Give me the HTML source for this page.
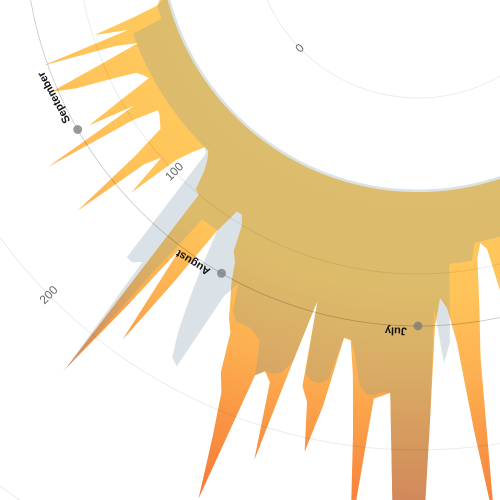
<!DOCTYPE html>
<html>
<head>
<meta charset="utf-8">
<style>
  html, body { margin: 0; padding: 0; background: #ffffff; width: 500px; height: 500px; overflow: hidden; }
  #chart { display: block; width: 500px; height: 500px; overflow: hidden; }
  svg text { font-family: "Liberation Sans", sans-serif; }
</style>
</head>
<body>
<svg id="chart" width="500" height="500" viewBox="0 0 500 500" xmlns="http://www.w3.org/2000/svg">
  <defs>
    <radialGradient id="orangeGrad" gradientUnits="userSpaceOnUse" cx="418" cy="-67" r="600">
      <stop offset="0.43" stop-color="#ffca5e"/>
      <stop offset="0.6" stop-color="#ffc45a"/>
      <stop offset="0.75" stop-color="#fdaf51"/>
      <stop offset="0.9" stop-color="#f98e41"/>
      <stop offset="1" stop-color="#f67a38"/>
    </radialGradient>
    <radialGradient id="tanGrad" gradientUnits="userSpaceOnUse" cx="418" cy="-67" r="600">
      <stop offset="0.43" stop-color="#dcbd6d"/>
      <stop offset="0.6" stop-color="#dcbb6b"/>
      <stop offset="0.75" stop-color="#d9a964"/>
      <stop offset="0.9" stop-color="#d4905b"/>
      <stop offset="1" stop-color="#d0805a"/>
    </radialGradient>
    <clipPath id="greyClip"><path id="greyClipPath" d=""/></clipPath>
  </defs>
  <g id="series-layer"></g>
  <g id="grid-layer"></g>
  <g id="label-layer"></g>
</svg>
<script>
// ---- data ----
const startDay = 158; // day-of-year index of first value (0 = Jan 1)
const orangeHigh = [
  120,120,120,120,120,120,120,120,120,
  120,140,135,90,86,94,120,150,245,190,140,120,114,130,179,250,262,258,240,168,170,172,250,193,160,141,140,180,208,180,172,123,160,220,175,170,174,251,215,190,180,157,150,140,131,120,115,100,95,95,111,150,192,130,175,224,100,99,88,82,78,78,85,95,126,100,110,156,110,90,88,86,85,100,155,95,123,100,80,82,85,100,120,133,100,77,90,132,80,99,75,60,
  58,58,58,58,58,58,58,58,58,58,58,58,58,58
];
const greyHigh = [
  85,85,85,85,85,85,85,85,85,
  85,85,85,85,85,85,95,95,95,95,95,140,151,120,180,250,262,258,240,168,168,170,170,165,150,140,140,165,168,168,165,123,160,168,170,170,174,155,152,150,150,150,145,130,140,188,185,170,150,130,110,110,110,110,150,228,150,154,154,111,80,
  78,78,78,78,78,78,78,78,78,78,78,78,78,78,78,78,78,78,78,78,78,78,78,78,78,78,78,60,60,60,60,
  56,56,56,56,56,56,56,56,56,56,56,56,56,56
];
const orangeLow = 53.5;
const greyLow = 52;
const radialTicks = [0, 100, 200, 300];
const monthLabels = ['January','February','March','April','May','June','July','August','September','October','November','December'];

// ---- axes ----
const cx = 418, cy = -67;
const r0 = 165, pxPerUnit = 1.76;
function rScale(v) { return r0 + v * pxPerUnit; }
function dayAngle(d) { return (-90 + d * 360 / 365) * Math.PI / 180; }
function monthAngle(m) { return (-90 + m * 30) * Math.PI / 180; }
function polar(a, r) { return [cx + r * Math.cos(a), cy + r * Math.sin(a)]; }

const NS = 'http://www.w3.org/2000/svg';
const seriesLayer = document.getElementById('series-layer');
const gridLayer = document.getElementById('grid-layer');
const labelLayer = document.getElementById('label-layer');

function areaPath(high, low) {
  let d = '';
  for (let i = 0; i < high.length; i++) {
    const p = polar(dayAngle(startDay + i), rScale(high[i]));
    d += (i === 0 ? 'M' : 'L') + p[0].toFixed(2) + ',' + p[1].toFixed(2);
  }
  const rl = rScale(low);
  const last = polar(dayAngle(startDay + high.length - 1), rl);
  const first = polar(dayAngle(startDay), rl);
  d += 'L' + last[0].toFixed(2) + ',' + last[1].toFixed(2);
  d += 'A' + rl + ',' + rl + ' 0 0 0 ' + first[0].toFixed(2) + ',' + first[1].toFixed(2) + 'Z';
  return d;
}

const greyD = areaPath(greyHigh, greyLow);
const orangeD = areaPath(orangeHigh, orangeLow);
document.getElementById('greyClipPath').setAttribute('d', greyD);

const greyArea = document.createElementNS(NS, 'path');
greyArea.setAttribute('d', greyD);
greyArea.setAttribute('fill', '#dae2e7');


seriesLayer.appendChild(greyArea);

const orangeArea = document.createElementNS(NS, 'path');
orangeArea.setAttribute('d', orangeD);
orangeArea.setAttribute('fill', 'url(#orangeGrad)');


seriesLayer.appendChild(orangeArea);

const overlapArea = document.createElementNS(NS, 'path');
overlapArea.setAttribute('d', orangeD);
overlapArea.setAttribute('fill', 'url(#tanGrad)');
overlapArea.setAttribute('clip-path', 'url(#greyClip)');


seriesLayer.appendChild(overlapArea);

// grid circles
radialTicks.forEach(function (t) {
  const c = document.createElementNS(NS, 'circle');
  c.setAttribute('cx', cx);
  c.setAttribute('cy', cy);
  c.setAttribute('r', rScale(t));
  c.setAttribute('fill', 'none');
  c.setAttribute('stroke', 'rgba(0,0,0,0.08)');
  c.setAttribute('stroke-width', '1');
  
  
  gridLayer.appendChild(c);
});

// month axis circle
const monthR = 393;
const axisCircle = document.createElementNS(NS, 'circle');
axisCircle.setAttribute('cx', cx);
axisCircle.setAttribute('cy', cy);
axisCircle.setAttribute('r', monthR);
axisCircle.setAttribute('fill', 'none');
axisCircle.setAttribute('stroke', 'rgba(0,0,0,0.22)');
axisCircle.setAttribute('stroke-width', '0.8');


gridLayer.appendChild(axisCircle);

// radial tick labels
const tickAngle = 135.5 * Math.PI / 180;
radialTicks.forEach(function (t) {
  const p = polar(tickAngle, rScale(t));
  const tx = document.createElementNS(NS, 'text');
  tx.setAttribute('x', p[0].toFixed(1));
  tx.setAttribute('y', p[1].toFixed(1));
  tx.setAttribute('text-anchor', 'middle');
  tx.setAttribute('dominant-baseline', 'middle');
  tx.setAttribute('font-size', '12');
  tx.setAttribute('fill', '#666666');
  tx.setAttribute('transform', 'rotate(-45 ' + p[0].toFixed(1) + ' ' + p[1].toFixed(1) + ')');
  
  
  tx.textContent = String(t);
  labelLayer.appendChild(tx);
});

// month dots and labels
monthLabels.forEach(function (m, i) {
  const a = monthAngle(i);
  const p = polar(a, monthR);
  const dot = document.createElementNS(NS, 'circle');
  dot.setAttribute('cx', p[0].toFixed(1));
  dot.setAttribute('cy', p[1].toFixed(1));
  dot.setAttribute('r', '4.5');
  dot.setAttribute('fill', 'rgba(120,120,120,0.75)');
  
  
  labelLayer.appendChild(dot);

  const la = a + 1.6 * Math.PI / 180;
  const lp = polar(la, 395);
  const deg = la * 180 / Math.PI + 90;
  const tx = document.createElementNS(NS, 'text');
  tx.setAttribute('x', lp[0].toFixed(1));
  tx.setAttribute('y', lp[1].toFixed(1));
  tx.setAttribute('text-anchor', 'start');
  tx.setAttribute('font-size', '11');
  tx.setAttribute('font-weight', 'bold');
  tx.setAttribute('fill', '#111111');
  tx.setAttribute('transform', 'rotate(' + deg.toFixed(2) + ' ' + lp[0].toFixed(1) + ' ' + lp[1].toFixed(1) + ')');
  
  
  tx.textContent = m;
  labelLayer.appendChild(tx);
});
</script>
</body>
</html>
